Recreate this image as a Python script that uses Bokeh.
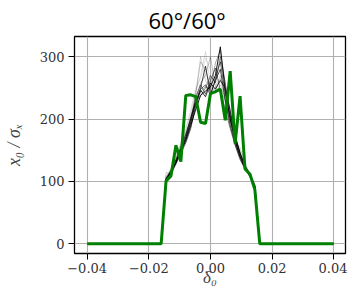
from bokeh.plotting import figure
from bokeh.models import FixedTicker, Range1d
from bokeh.embed import file_html
from bokeh.resources import INLINE

# ---- data ----
x_core = [-0.016, -0.0144, -0.0128, -0.0112, -0.0096, -0.008, -0.0064, -0.0048,
          -0.0032, -0.0016, 0.0, 0.0016, 0.0032, 0.0048, 0.0064, 0.008, 0.0096,
          0.0112, 0.0128, 0.0144, 0.016]
x_ends = [-0.04, 0.04]

green_core = [0, 101, 109, 158, 132, 238, 239, 236, 195, 193, 241, 244, 248,
              198, 277, 161, 237, 120, 112, 87, 0]

ens_a = [0, 103, 115, 130, 148, 166, 190, 215, 238, 245, 252, 270, 316, 245, 200, 165, 140, 122, 110, 92, 0]
ens_b = [0, 105, 118, 135, 155, 176, 200, 228, 250, 285, 240, 262, 280, 230, 190, 160, 138, 120, 108, 90, 0]
ens_c = [0, 100, 112, 128, 145, 162, 185, 222, 248, 255, 238, 265, 292, 240, 205, 170, 145, 125, 112, 95, 0]
ens_d = [0, 115, 110, 132, 150, 170, 196, 240, 300, 262, 245, 250, 270, 235, 195, 160, 155, 130, 112, 90, 0]
ens_e = [0, 108, 120, 140, 160, 182, 210, 245, 270, 308, 255, 240, 255, 230, 200, 168, 142, 123, 110, 92, 0]
ens_f = [0, 102, 114, 130, 150, 168, 198, 235, 255, 240, 262, 282, 246, 215, 185, 158, 135, 120, 108, 88, 0]
ens_g = [0, 104, 116, 133, 152, 172, 204, 228, 238, 250, 270, 258, 300, 258, 210, 172, 146, 124, 111, 93, 0]
ens_h = [0, 106, 118, 137, 158, 178, 202, 238, 292, 280, 250, 248, 265, 228, 196, 163, 140, 121, 109, 91, 0]
ens_i = [0, 101, 113, 129, 147, 165, 188, 220, 244, 252, 248, 290, 310, 255, 205, 168, 143, 123, 110, 92, 0]
ens_j = [0, 110, 122, 142, 162, 185, 215, 250, 265, 298, 280, 260, 245, 225, 195, 165, 150, 128, 112, 90, 0]
ens_k = [0, 103, 116, 131, 151, 170, 194, 226, 246, 236, 258, 248, 262, 250, 214, 174, 146, 125, 111, 92, 0]
ens_l = [0, 104, 117, 134, 153, 173, 199, 232, 258, 270, 300, 252, 242, 232, 202, 166, 144, 122, 110, 91, 0]
ensemble = [ens_a, ens_b, ens_c, ens_d, ens_e, ens_f, ens_g, ens_h, ens_i, ens_j, ens_k, ens_l]
ens_alpha = [0.9, 0.7, 0.6, 0.15, 0.12, 0.5, 0.45, 0.2, 0.35, 0.1, 0.8, 0.25]

x_ticks = [-0.04, -0.02, 0.0, 0.02, 0.04]
x_tick_labels = ["−0.04", "−0.02", "0.00", "0.02", "0.04"]
y_ticks = [0, 100, 200, 300]

title_text = "60°/60°"
x_label = "δ₀"
y_label = "x₀ / σₓ"

# ---- figure ----
p = figure(width=347, height=289, output_backend="svg", toolbar_location=None,
           x_range=Range1d(-0.0441, 0.0438), y_range=Range1d(-15.5, 332.5),
           min_border_left=59, min_border_right=2, min_border_top=34,
           min_border_bottom=34, background_fill_color="white",
           border_fill_color="white")

p.title.text = title_text
p.title.align = "left"
p.title.offset = 74
p.title.text_font = "Open Sans"
p.title.text_font_size = "22px"
p.title.text_font_style = "normal"
p.title.text_color = "black"
p.title.standoff = 4

p.outline_line_color = "black"
p.outline_line_width = 1.3
p.outline_line_alpha = 1.0

p.axis.axis_line_color = None
p.axis.major_tick_line_color = "black"
p.axis.major_tick_line_width = 1
p.axis.major_tick_out = 6
p.axis.major_tick_in = 0
p.axis.minor_tick_line_color = None
p.axis.major_label_text_font = "DejaVu Serif"
p.axis.major_label_text_font_size = "13px"
p.axis.major_label_text_color = "#333333"
p.axis.axis_label_text_font = "Liberation Serif"
p.axis.axis_label_text_font_style = "italic"
p.axis.axis_label_text_color = "#444444"

p.xaxis.ticker = FixedTicker(ticks=x_ticks)
p.xaxis.major_label_overrides = dict(zip(x_ticks, x_tick_labels))
p.xaxis.major_label_standoff = 3
p.xaxis.axis_label = x_label
p.xaxis.axis_label_text_font_size = "17px"
p.xaxis.axis_label_standoff = -8

p.yaxis.ticker = FixedTicker(ticks=y_ticks)
p.yaxis.major_label_standoff = 4
p.yaxis.axis_label = y_label
p.yaxis.axis_label_text_font_size = "18px"
p.yaxis.axis_label_standoff = 13

p.xgrid.ticker = FixedTicker(ticks=x_ticks)
p.ygrid.ticker = FixedTicker(ticks=y_ticks)
p.grid.grid_line_color = "#b0b0b0"
p.grid.grid_line_width = 1.1

for ys, a in zip(ensemble, ens_alpha):
    p.line(x_core, ys, line_color="black", line_alpha=a, line_width=1)

green_x = [x_ends[0]] + x_core + [x_ends[1]]
green_y = [0] + green_core + [0]
p.line(green_x, green_y, line_color="green", line_width=3)

open("out.html", "w").write(file_html(p, INLINE))
